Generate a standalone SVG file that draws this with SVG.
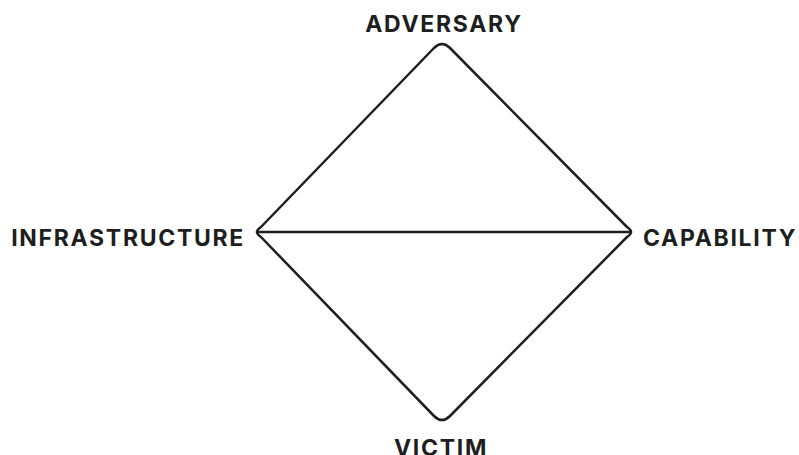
<svg xmlns="http://www.w3.org/2000/svg" width="799" height="455" viewBox="0 0 799 455">
<style>
.lbl{font-family:Inter,"Liberation Sans",sans-serif;font-weight:700;font-size:23px;letter-spacing:1.7px;fill:#1e1e1e}
.edge{fill:none;stroke:#1e1e1e;stroke-width:2.5;stroke-linejoin:round;stroke-linecap:round}
</style>
<rect width="799" height="455" fill="#ffffff"/>
<g id="connectors">
<path class="edge" d="M 434,48 Q 442,40 450,48 L 627,227 Q 635,232 627,237 L 450,416 Q 442,424 434,416 L 261,237 Q 253,232 261,227 Z"/>
<line class="edge" x1="257" y1="232" x2="631" y2="232"/>
</g>
<g id="adversary"><text class="lbl" x="444" y="32" text-anchor="middle">ADVERSARY</text></g>
<g id="infrastructure"><text class="lbl" x="245" y="246" text-anchor="end">INFRASTRUCTURE</text></g>
<g id="capability"><text class="lbl" x="643" y="246">CAPABILITY</text></g>
<g id="victim"><text class="lbl" x="441" y="456" text-anchor="middle">VICTIM</text></g>
</svg>
